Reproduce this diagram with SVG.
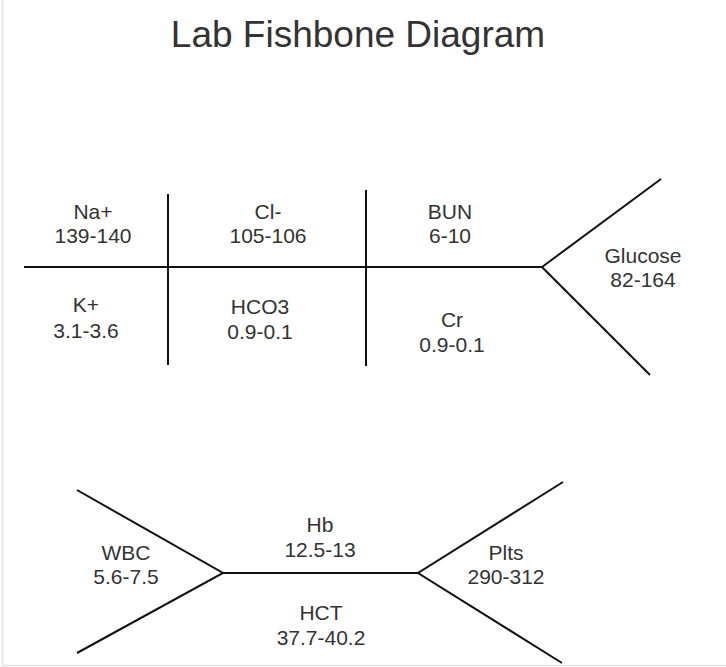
<svg xmlns="http://www.w3.org/2000/svg" width="726" height="667" viewBox="0 0 726 667">
<style>
.bone{stroke:#111;stroke-width:2;fill:none;stroke-linecap:butt}
.lbl{font-family:"Liberation Sans",Arial,sans-serif;font-size:21px;fill:#333;text-anchor:middle}
.title{font-family:"Liberation Sans",Arial,sans-serif;font-size:37px;fill:#333;text-anchor:middle}
.frame{stroke:#e2e2e2;stroke-width:1.5;fill:none}
</style>
<rect width="726" height="667" fill="#fff"/>
<path class="frame" d="M2.5 0V665.5H726"/>
<text id="title" class="title" x="358" y="47">Lab Fishbone Diagram</text>
<g id="connectors">
<line class="bone" x1="24" y1="267" x2="542" y2="267"/>
<line class="bone" x1="168" y1="194" x2="168" y2="365"/>
<line class="bone" x1="366" y1="190" x2="366" y2="366"/>
<polyline class="bone" points="661,179 542,267 650,375"/>
<line class="bone" x1="223" y1="573" x2="418" y2="573"/>
<polyline class="bone" points="77,490 223,573 77,653"/>
<polyline class="bone" points="563,482 418,573 562,663"/>
</g>
<g id="na"><text class="lbl" x="93" y="219">Na+</text><text class="lbl" x="93" y="243">139-140</text></g>
<g id="cl"><text class="lbl" x="268" y="219">Cl-</text><text class="lbl" x="268" y="243">105-106</text></g>
<g id="bun"><text class="lbl" x="450" y="219">BUN</text><text class="lbl" x="450" y="243">6-10</text></g>
<g id="k"><text class="lbl" x="86" y="312">K+</text><text class="lbl" x="86" y="338">3.1-3.6</text></g>
<g id="hco3"><text class="lbl" x="260" y="314">HCO3</text><text class="lbl" x="260" y="339">0.9-0.1</text></g>
<g id="cr"><text class="lbl" x="452" y="327">Cr</text><text class="lbl" x="452" y="352">0.9-0.1</text></g>
<g id="glucose"><text class="lbl" x="643" y="263">Glucose</text><text class="lbl" x="643" y="287">82-164</text></g>
<g id="wbc"><text class="lbl" x="126" y="560">WBC</text><text class="lbl" x="126" y="584">5.6-7.5</text></g>
<g id="hb"><text class="lbl" x="320" y="532">Hb</text><text class="lbl" x="320" y="557">12.5-13</text></g>
<g id="hct"><text class="lbl" x="321" y="620">HCT</text><text class="lbl" x="321" y="645">37.7-40.2</text></g>
<g id="plts"><text class="lbl" x="506" y="560">Plts</text><text class="lbl" x="506" y="584">290-312</text></g>
</svg>
